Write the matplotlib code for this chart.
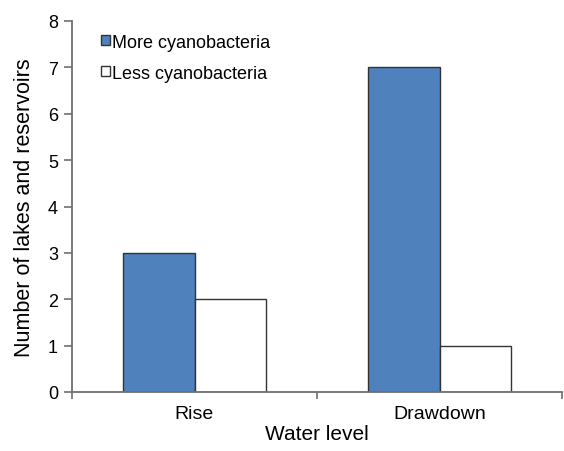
import numpy as np
import matplotlib
matplotlib.use("Agg")
import matplotlib.pyplot as plt

plt.rcParams['font.family'] = ['Liberation Sans', 'DejaVu Sans']

categories = ["Rise", "Drawdown"]
more_cyano = [3, 7]
less_cyano = [2, 1]
series_names = ["More cyanobacteria", "Less cyanobacteria"]

fig = plt.figure(figsize=(5.64, 4.52), dpi=100)
ax = fig.add_axes([72/564, 59/452, 490/564, 371/452])

x = np.arange(len(categories))
w = 0.29
ax.bar(x - w/2, more_cyano, w, color="#4F81BD", edgecolor="#333333", linewidth=1, label=series_names[0])
ax.bar(x + w/2, less_cyano, w, color="white", edgecolor="#333333", linewidth=1, label=series_names[1])

ax.set_ylim(0, 8)
ax.set_yticks(range(0, 9))
ax.set_xlim(-0.5, 1.46)
ax.set_xticks([-0.5, 0.5, 1.5])
ax.set_xticklabels([])
ax.set_xticks(x, minor=True)
ax.set_xticklabels(categories, minor=True)
ax.tick_params(axis='x', which='minor', length=0, pad=9.5, labelsize=14)
ax.tick_params(axis='x', which='major', length=5, direction='out', color='#707070', width=1.2)
ax.tick_params(axis='y', length=6, direction='out', color='#707070', width=1.2, labelsize=13, pad=4)

for s in ['top', 'right']:
    ax.spines[s].set_visible(False)
for s in ['left', 'bottom']:
    ax.spines[s].set_color('#707070')
    ax.spines[s].set_linewidth(1.3)

ax.set_xlabel("Water level", fontsize=15, labelpad=1.5)
ax.set_ylabel("Number of lakes and reservoirs", fontsize=15.5, labelpad=9)

ax.legend(loc='upper left', bbox_to_anchor=(0.027, 1.01), frameon=False, fontsize=13,
          handlelength=0.45, handleheight=0.45, handletextpad=0.15, labelspacing=0.78)

fig.savefig("out.png", dpi=100)
